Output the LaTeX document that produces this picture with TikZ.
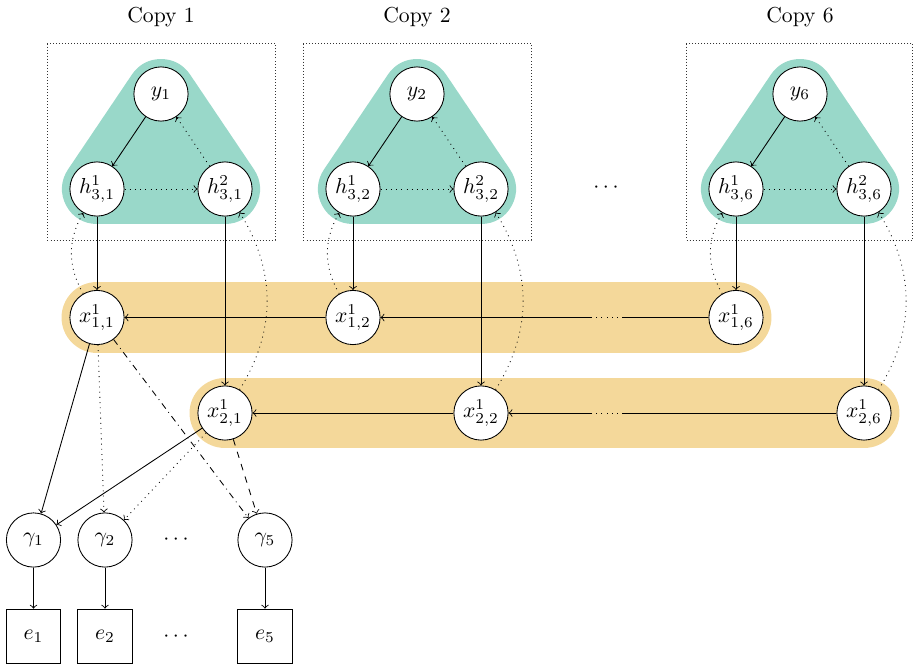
\documentclass[tikz,border=0pt]{standalone}
\usetikzlibrary{backgrounds}
\definecolor{tealfill}{HTML}{99D8C9}
\definecolor{bandfill}{HTML}{F4D89A}
\begin{document}
\begin{tikzpicture}[x=0.01623cm,y=-0.01623cm,
  var/.style={circle,draw,fill=white,minimum size=0.88cm,inner sep=0.5pt},
  obs/.style={rectangle,draw,fill=white,minimum size=0.89cm,inner sep=0.5pt},
  copybox/.style={densely dotted,draw=black!80},
  tri/.style={fill=tealfill,draw=tealfill,line width=1.136cm,line join=round},
  band/.style={draw=bandfill,line width=1.152cm,line cap=round}]
\useasboundingbox (0,0) rectangle (914,666);

\foreach \i/\xx in {1/97,2/353,6/736} {
  \pgfmathsetmacro\rx{min(\xx+178,912.8)}
  \node[var] (y\i) at (\xx+64,94) {$y_{\i}$};
  \node[var] (ha\i) at (\xx,189) {$h^1_{3,\i}$};
  \node[var] (hb\i) at (\xx+128,189) {$h^2_{3,\i}$};
  \node[var] (xa\i) at (\xx,317.5) {$x^1_{1,\i}$};
  \node[var] (xb\i) at (\xx+128,413) {$x^1_{2,\i}$};
  \node (lab\i) at (\xx+64,17) {Copy \i};
  \draw[copybox] (\xx-50,43.5) rectangle (\rx,240);
  \begin{scope}[on background layer]
    \path[tri] (y\i.center) -- (ha\i.center) -- (hb\i.center) -- cycle;
  \end{scope}
  \draw[->] (y\i) -- (ha\i);
  \draw[->,dotted] (hb\i) -- (y\i);
  \draw[->,dotted] (ha\i) -- (hb\i);
  \draw[->] (ha\i) -- (xa\i);
  \draw[->] (hb\i) -- (xb\i);
  \draw[->,dotted] (xa\i) to[bend left=30] (ha\i);
  \draw[->,dotted] (xb\i) to[bend right=32] (hb\i);
}

\node (dc) at (606,188) {$\cdots$};

\begin{scope}[on background layer]
  \draw[band] (xa1.center) -- (xa6.center);
  \draw[band] (xb1.center) -- (xb6.center);
\end{scope}

\coordinate (da1) at (623,317.5);
\coordinate (db1) at (592,317.5);
\coordinate (da2) at (623,413);
\coordinate (db2) at (592,413);
\draw[->] (xa2) -- (xa1);
\draw (xa6) -- (da1);
\draw[dotted] (da1) -- (db1);
\draw[->] (db1) -- (xa2);
\draw[->] (xb2) -- (xb1);
\draw (xb6) -- (da2);
\draw[dotted] (da2) -- (db2);
\draw[->] (db2) -- (xb2);

\node[var] (g1) at (33.5,540) {$\gamma_1$};
\node[var] (g2) at (105,540) {$\gamma_2$};
\node[var] (g5) at (265,540) {$\gamma_5$};
\node (gd) at (176,540) {$\cdots$};
\node[obs] (e1) at (33.5,636.5) {$e_1$};
\node[obs] (e2) at (105,636.5) {$e_2$};
\node[obs] (e5) at (265,636.5) {$e_5$};
\node (ed) at (176,636.5) {$\cdots$};

\draw[->] (xa1) -- (g1);
\draw[->] (xb1) -- (g1);
\draw[->,dotted] (xa1) -- (g2);
\draw[->,dotted] (xb1) -- (g2);
\draw[->,dashdotted] (xa1) -- (g5);
\draw[->,dashed] (xb1) -- (g5);
\foreach \j in {1,2,5} { \draw[->] (g\j) -- (e\j); }
\end{tikzpicture}
\end{document}
